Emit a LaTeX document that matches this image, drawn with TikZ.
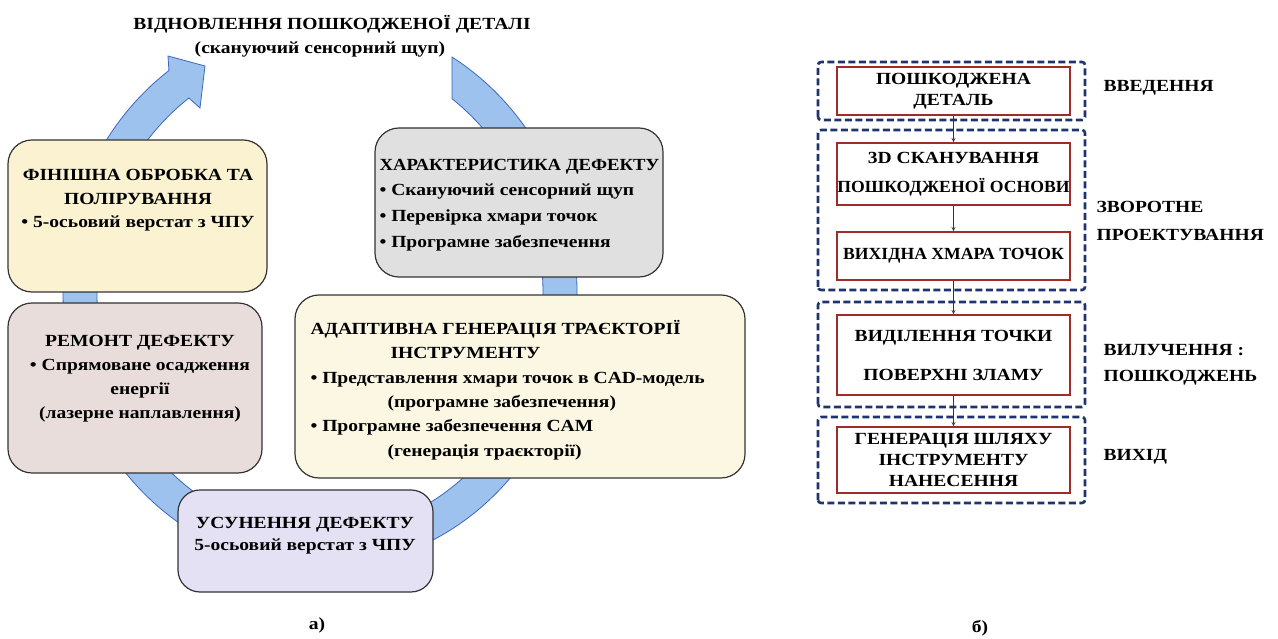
\documentclass[tikz,border=0pt]{standalone}
\usepackage{fontspec}
\setmainfont{Liberation Serif}[FakeStretch=1.15]
\newfontfamily\tightserif{Liberation Serif}[FakeStretch=1.04]
\newfontfamily\midserif{Liberation Serif}[FakeStretch=1.1]
\usepackage{tikz}

\definecolor{finfill}{RGB}{250,242,208}
\definecolor{defgray}{RGB}{224,224,224}
\definecolor{repfill}{RGB}{232,221,219}
\definecolor{adfill}{RGB}{251,247,227}
\definecolor{remfill}{RGB}{229,225,244}
\definecolor{ringfill}{RGB}{157,194,238}
\definecolor{ringedge}{RGB}{62,102,190}
\definecolor{stepred}{RGB}{160,44,42}
\definecolor{groupnavy}{RGB}{30,52,110}

\begin{document}
\begin{tikzpicture}[x=1pt,y=1pt,>=stealth,
  every node/.style={font=\bfseries\fontsize{17}{24}\selectfont},
  stage/.style={draw=black!80, line width=1.2pt, rounded corners=24pt},
  band/.style={fill=ringfill, draw=ringedge, line width=0.8pt},
  stepbox/.style={draw=stepred, line width=1.8pt, fill=white, minimum width=233pt, align=center, inner sep=0pt, font=\bfseries\fontsize{17}{21}\selectfont},
  group/.style={draw=groupnavy, line width=2.6pt, dash pattern=on 7pt off 3.5pt, rounded corners=3pt},
  sidelabel/.style={anchor=west, align=left},
  flow/.style={->, draw=black!80, line width=0.8pt}]
\useasboundingbox (0,0) rectangle (1278,639);

% а) repair cycle
\path[band] ({320+257*cos(59.1)},{346+275*sin(59.1)}) arc[start angle=59.1, end angle=-234, x radius=257, y radius=275]
  -- (168,583) -- (205,573) -- (200,531) -- ({320+223*cos(126)},{346+241*sin(126)})
  arc[start angle=-234, end angle=53.7, x radius=223, y radius=241] -- cycle;
\node (title) at (332,615) {ВІДНОВЛЕННЯ ПОШКОДЖЕНОЇ ДЕТАЛІ};
\node (probe) at (320,590) {(скануючий сенсорний щуп)};

\draw[stage, fill=finfill] (8,347) rectangle (267,499);
\node[align=center, font=\bfseries\fontsize{17}{23.5}\selectfont] (finish) at (138,438.5) {ФІНІШНА ОБРОБКА ТА\\ПОЛІРУВАННЯ\\\textbullet\ 5-осьовий верстат з ЧПУ};
\draw[stage, fill=defgray] (375,362) rectangle (663,511);
\node[anchor=west, align=left, font=\bfseries\fontsize{17}{25.8}\selectfont] (defect) at (376,434) {{\midserif ХАРАКТЕРИСТИКА ДЕФЕКТУ}\\\textbullet\ Скануючий сенсорний щуп\\\textbullet\ Перевірка хмари точок\\\textbullet\ Програмне забезпечення};
\draw[stage, fill=repfill] (8,166) rectangle (262,336);
\node[align=center] (repair) at (140,260.5) {РЕМОНТ ДЕФЕКТУ\\\textbullet\ Спрямоване осадження\\енергії\\(лазерне наплавлення)};
\draw[stage, fill=adfill] (295,161) rectangle (745,344);
\node[anchor=west, align=left, font=\bfseries\fontsize{17}{24.4}\selectfont] (adaptive) at (307,249) {АДАПТИВНА ГЕНЕРАЦІЯ ТРАЄКТОРІЇ\\\hspace*{80pt}ІНСТРУМЕНТУ\\\textbullet\ Представлення хмари точок в CAD-модель\\\hspace*{77pt}(програмне забезпечення)\\\textbullet\ Програмне забезпечення CAM\\\hspace*{77pt}(генерація траєкторії)};
\draw[stage, rounded corners=22pt, fill=remfill] (178,47) rectangle (433,149);
\node[align=center, font=\bfseries\fontsize{17}{22}\selectfont] (removal) at (305,103) {УСУНЕННЯ ДЕФЕКТУ\\5-осьовий верстат з ЧПУ};
\node (capA) at (317,14) {а)};

% б) processing chain
\draw[group] (818,519) rectangle (1085,577);
\draw[group] (818,349) rectangle (1085,509);
\draw[group] (818,232) rectangle (1085,337);
\draw[group] (818,136) rectangle (1085,222);
\node[stepbox, minimum height=48pt] (part) at (953.5,548) {ПОШКОДЖЕНА\\ДЕТАЛЬ};
\node[stepbox, minimum height=62pt] (scan) at (953.5,465) {3D СКАНУВАННЯ\\[8pt]{\tightserif ПОШКОДЖЕНОЇ ОСНОВИ}};
\node[stepbox, minimum height=48pt, font=\tightserif\bfseries\fontsize{17}{21}\selectfont] (cloud) at (953.5,383) {ВИХІДНА ХМАРА ТОЧОК};
\node[stepbox, minimum height=80pt] (fracture) at (953.5,284) {ВИДІЛЕННЯ ТОЧКИ\\[18pt]ПОВЕРХНІ ЗЛАМУ};
\node[stepbox, minimum height=66pt] (toolpath) at (953.5,179) {ГЕНЕРАЦІЯ ШЛЯХУ\\ІНСТРУМЕНТУ\\НАНЕСЕННЯ};
\draw[flow] (part) -- (scan);
\draw[flow] (scan) -- (cloud);
\draw[flow] (cloud) -- (fracture);
\draw[flow] (fracture) -- (toolpath);
\node[sidelabel] (intro) at (1100,551) {ВВЕДЕННЯ};
\node[sidelabel, font=\bfseries\fontsize{17}{28}\selectfont] (reverse) at (1093,418) {ЗВОРОТНЕ\\ПРОЕКТУВАННЯ};
\node[sidelabel, font=\bfseries\fontsize{17}{26}\selectfont] (extract) at (1100,274) {ВИЛУЧЕННЯ :\\ПОШКОДЖЕНЬ};
\node[sidelabel] (output) at (1100,182) {ВИХІД};
\node (capB) at (980,11) {б)};
\end{tikzpicture}
\end{document}
